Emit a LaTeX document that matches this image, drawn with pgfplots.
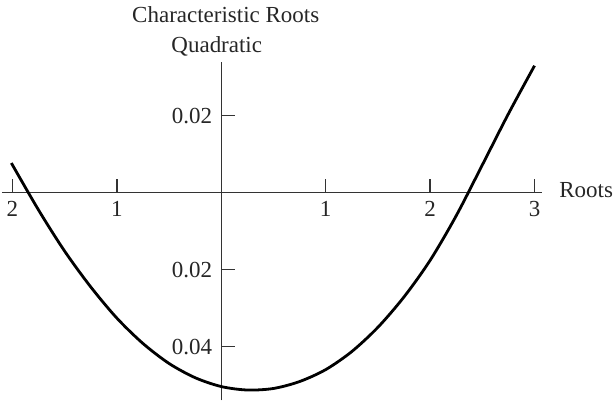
\documentclass[border=0pt]{standalone}
\usepackage{fontspec}
\setmainfont{Liberation Serif}
\usepackage{pgfplots}
\pgfplotsset{compat=1.18}

% points
\pgfplotstableread{
x      y
-2.01   0.0077
-1.75  -0.0045
-1.50  -0.0152
-1.25  -0.0245
-1.00  -0.0326
-0.75  -0.0392
-0.50  -0.0444
-0.25  -0.0481
 0.00  -0.0504
 0.25  -0.0513
 0.50  -0.0509
 0.75  -0.0491
 1.00  -0.0460
 1.25  -0.0413
 1.50  -0.0350
 1.75  -0.0271
 2.00  -0.0176
 2.25  -0.0060
 2.50   0.0072
 2.75   0.0205
 3.00   0.0330
}\roots

\begin{document}
\begin{tikzpicture}[font=\fontsize{11.5}{13.8}\selectfont]
  \begin{axis}[
      x=52.25pt, y=1925pt,
      axis lines=middle,
      axis line style={-, black!80, line width=0.7pt},
      xmin=-2.1, xmax=3.07, ymin=-0.054, ymax=0.034,
      enlargelimits=false, clip=false,
      scaled y ticks=false, scaled x ticks=false,
      xtick={-2,-1,1,2,3}, xticklabels={2,1,1,2,3},
      ytick={-0.04,-0.02,0.02}, yticklabels={0.04,0.02,0.02},
      tick align=inside, major tick length=7pt,
      tick style={black!80, line width=0.7pt},
      tick label style={text=black!85},
      /pgf/number format/assume math mode=true,
      xticklabel style={yshift=-1pt},
      yticklabel style={xshift=-1pt},
    ]
    \addplot[black, line width=1.4pt, smooth] table[x=x, y=y] {\roots};
    \node[anchor=base, text=black!85] at (axis cs:-0.043,0.0364) {Quadratic};
    \node[anchor=base, text=black!85] at (axis cs:0.043,0.0442) {Characteristic Roots};
    \node[anchor=base west, text=black!85, inner sep=0pt] at (axis cs:3.234,-0.0013) {Roots};
  \end{axis}
\end{tikzpicture}
\end{document}
